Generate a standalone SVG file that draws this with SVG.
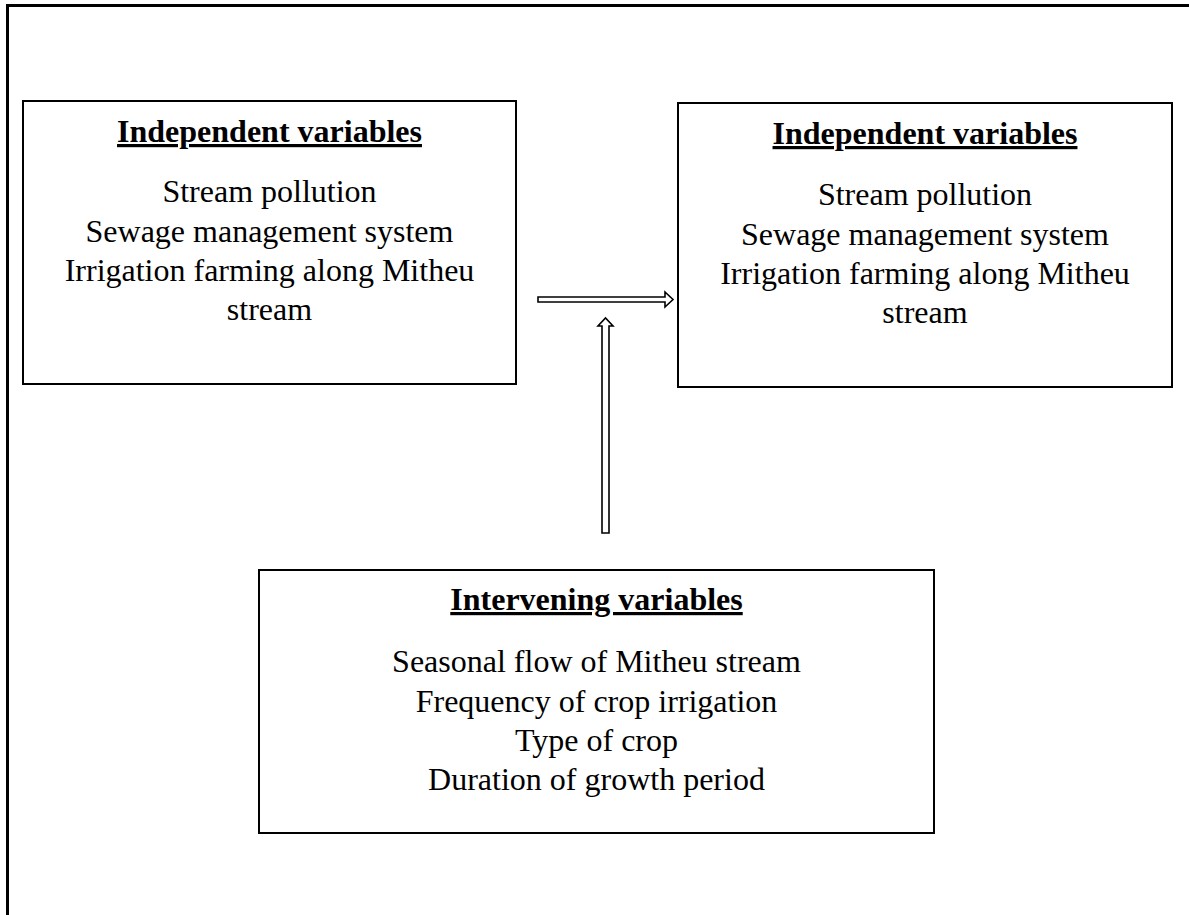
<svg xmlns="http://www.w3.org/2000/svg" width="1189" height="915" viewBox="0 0 1189 915">
<style>
.box{fill:#fff;stroke:#000;stroke-width:2}
.t{font-family:"Liberation Serif","Times New Roman",serif;font-size:32px;fill:#000;text-anchor:middle}
.h{font-weight:bold;text-decoration:underline}
.arr{fill:#fff;stroke:#000;stroke-width:1.6;stroke-linejoin:miter}
</style>
<rect width="1189" height="915" fill="#fff"/>
<g id="frame">
<line x1="6" y1="5.5" x2="1189" y2="5.5" stroke="#000" stroke-width="3"/>
<line x1="7.5" y1="4" x2="7.5" y2="915" stroke="#000" stroke-width="3"/>
</g>
<g id="node-left">
<rect class="box" x="23" y="101" width="493" height="283"/>
<text class="t h" x="269.5" y="142">Independent variables</text>
<text class="t" x="269.5" y="202">Stream pollution</text>
<text class="t" x="269.5" y="242">Sewage management system</text>
<text class="t" x="269.5" y="281">Irrigation farming along Mitheu</text>
<text class="t" x="269.5" y="320">stream</text>
</g>
<g id="node-right">
<rect class="box" x="678" y="103" width="494" height="284"/>
<text class="t h" x="925" y="144">Independent variables</text>
<text class="t" x="925" y="205">Stream pollution</text>
<text class="t" x="925" y="245">Sewage management system</text>
<text class="t" x="925" y="284">Irrigation farming along Mitheu</text>
<text class="t" x="925" y="323">stream</text>
</g>
<g id="node-intervening">
<rect class="box" x="259" y="570" width="675" height="263"/>
<text class="t h" x="596.5" y="610">Intervening variables</text>
<text class="t" x="596.5" y="672">Seasonal flow of Mitheu stream</text>
<text class="t" x="596.5" y="712">Frequency of crop irrigation</text>
<text class="t" x="596.5" y="751">Type of crop</text>
<text class="t" x="596.5" y="790">Duration of growth period</text>
</g>
<g id="connectors">
<path class="arr" d="M538,297 L665,297 L665,292 L673,299.5 L665,307 L665,302 L538,302 Z"/>
<path class="arr" d="M602,533 L602,326 L598,326 L605.5,318 L613,326 L609,326 L609,533 Z"/>
</g>
</svg>
